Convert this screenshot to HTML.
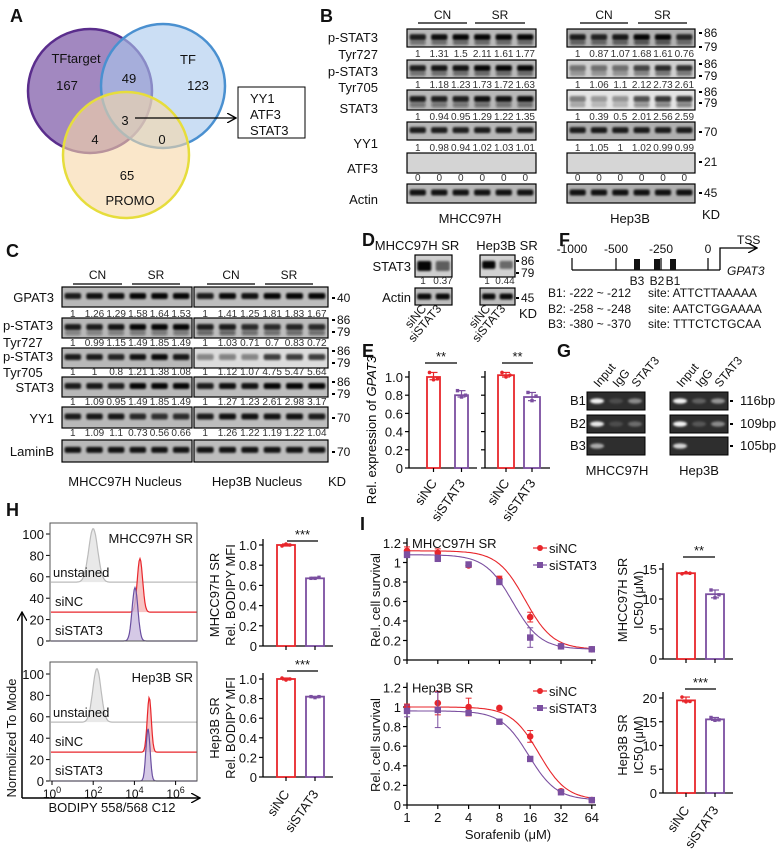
<!DOCTYPE html>
<html><head><meta charset="utf-8"><style>
html,body{margin:0;padding:0;background:#fff}
svg{display:block;font-family:"Liberation Sans",Arial,sans-serif}
</style></head><body>
<svg id="fig" width="779" height="849" viewBox="0 0 779 849">
<defs>
<filter id="blur1" x="-20%" y="-50%" width="140%" height="200%"><feGaussianBlur stdDeviation="1.1"/></filter>
<filter id="blur2" x="-30%" y="-80%" width="160%" height="260%"><feGaussianBlur stdDeviation="1.6"/></filter>
<marker id="ah" markerWidth="10" markerHeight="10" refX="9" refY="5" orient="auto" markerUnits="userSpaceOnUse"><path d="M0,0 L9,5 L0,10" fill="none" stroke="#000" stroke-width="1.3"/></marker>
</defs>
</svg>
<script>
// ---------- data ----------
const vennLabels = ['TFtarget','TF','PROMO'];
const vennCounts = ['167','49','123','3','4','0','65'];
const laneNums = ['CN','SR'];
const bLeftNums = [['1','1.31','1.5','2.11','1.61','1.77'],['1','1.18','1.23','1.73','1.72','1.63'],['1','0.94','0.95','1.29','1.22','1.35'],['1','0.98','0.94','1.02','1.03','1.01'],['0','0','0','0','0','0']];
const bRightNums = [['1','0.87','1.07','1.68','1.61','0.76'],['1','1.06','1.1','2.12','2.73','2.61'],['1','0.39','0.5','2.01','2.56','2.59'],['1','1.05','1','1.02','0.99','0.99'],['0','0','0','0','0','0']];
const cLeftNums = [['1','1.26','1.29','1.58','1.64','1.53'],['1','0.99','1.15','1.49','1.85','1.49'],['1','1','0.8','1.21','1.38','1.08'],['1','1.09','0.95','1.49','1.85','1.49'],['1','1.09','1.1','0.73','0.56','0.66']];
const cRightNums = [['1','1.41','1.25','1.81','1.83','1.67'],['1','1.03','0.71','0.7','0.83','0.72'],['1','1.12','1.07','4.75','5.47','5.64'],['1','1.27','1.23','2.61','2.98','3.17'],['1','1.26','1.22','1.19','1.22','1.04']];
// E
const eCats = ['siNC','siSTAT3'];
const eLeftVals = [1.0, 0.80];
const eLeftDots = [[1.05,0.97,0.98],[0.85,0.78,0.80]];
const eRightVals = [1.02, 0.78];
const eRightDots = [[1.05,1.00,1.02],[0.83,0.74,0.79]];
const eTicks = [0,0.2,0.4,0.6,0.8,1.0];
const eTickLabels = ['0','0.2','0.4','0.6','0.8','1.0'];
// H
const hTicks = [0,20,40,60,80,100];
const hXTickLabels = ['0','2','4','6'];
const hMhccPeaks = {unstained:[2.0,105,55,0.22], siNC:[4.27,77,27,0.13], siSTAT3:[4.03,50,0,0.14]};
const hHepPeaks = {unstained:[2.18,105,55,0.2], siNC:[4.72,78,27,0.1], siSTAT3:[4.66,49,0,0.1]};
const hMfiMhcc = [1.0, 0.67];
const hMfiMhccDots = [[0.99,1.01,1.0],[0.67,0.67,0.68]];
const hMfiHep = [1.0, 0.82];
const hMfiHepDots = [[1.01,0.99,1.0],[0.82,0.81,0.82]];
const hMfiTicks = [0,0.2,0.4,0.6,0.8,1.0];
// I
const iDoses = [1,2,4,8,16,32,64];
const iDoseLabels = ['1','2','4','8','16','32','64'];
const iMhccNC = [1.12,1.10,0.97,0.83,0.44,0.14,0.11];
const iMhccSi = [1.08,1.04,0.98,0.80,0.23,0.14,0.11];
const iMhccNCErr = [0.04,0.04,0.02,0.03,0.05,0.01,0.02];
const iMhccSiErr = [0.03,0.03,0.02,0.02,0.10,0.01,0.02];
const iHepNC = [1.00,1.04,1.00,0.99,0.70,0.14,0.05];
const iHepSi = [0.96,0.97,0.94,0.85,0.47,0.13,0.05];
const iHepNCErr = [0.03,0.12,0.09,0.01,0.06,0.02,0.01];
const iHepSiErr = [0.06,0.18,0.02,0.01,0.02,0.01,0.01];
const iYTicks = [0,0.2,0.4,0.6,0.8,1,1.2];
const iYTickLabels = ['0','0.2','0.4','0.6','0.8','1','1.2'];
const ic50Mhcc = [14.3, 10.8];
const ic50MhccDots = [[14.2,14.4,14.3],[11.5,10.2,10.7]];
const ic50Hep = [19.5, 15.5];
const ic50HepDots = [[20.2,19.2,19.3],[15.9,15.3,15.4]];
const ic50MhccTicks = [0,5,10,15];
const ic50HepTicks = [0,5,10,15,20];

// ---------- helpers ----------
const NS='http://www.w3.org/2000/svg';
const svg=document.getElementById('fig');
const RED='#e8262b', PUR='#7b4fa0';
function mk(tag, attrs, parent, name){
  const e=document.createElementNS(NS,tag);
  for(const k in attrs) e.setAttribute(k,attrs[k]);
  
  
  (parent||svg).appendChild(e); return e;
}
function T(x,y,s,o,name,parent){
  o=o||{};
  const a={x:x,y:y,'font-size':o.size||12,fill:o.fill||'#111','text-anchor':o.anchor||'start'};
  if(o.weight) a['font-weight']=o.weight;
  if(o.italic) a['font-style']='italic';
  if(o.rot!==undefined) a.transform='rotate('+o.rot+' '+x+' '+y+')';
  const e=mk('text',a,parent,name); e.textContent=s; return e;
}
function L(x1,y1,x2,y2,o,name,parent){
  o=o||{};
  const a={x1:x1,y1:y1,x2:x2,y2:y2,stroke:o.stroke||'#000','stroke-width':o.w||1};
  if(o.marker) a['marker-end']='url(#ah)';
  return mk('line',a,parent,name);
}

// ---------- panel letters ----------
[['A',10,22],['B',320,22],['C',6,257],['D',362,246],['E',362,357],['F',559,246],['G',557,357],['H',6,516],['I',360,530]].forEach(p=>T(p[1],p[2],p[0],{size:18,weight:'bold'},'panel-label-'+p[0].toLowerCase()));

// ---------- A: Venn ----------
const gA=mk('g',{},svg,'venn-diagram');
mk('circle',{cx:90,cy:91,r:62,fill:'#7e5aa8','fill-opacity':0.72,stroke:'#5a2d8c','stroke-width':2.5},gA,'venn-circle-tftarget');
mk('circle',{cx:163,cy:86,r:62,fill:'#a9c8ec','fill-opacity':0.6,stroke:'#4a90d0','stroke-width':2.5},gA,'venn-circle-tf');
mk('circle',{cx:126,cy:155,r:63,fill:'#f6d7a6','fill-opacity':0.6,stroke:'#e6dd3c','stroke-width':2.5},gA,'venn-circle-promo');
T(76,63,vennLabels[0],{size:13,anchor:'middle'},'venn-label-tftarget',gA);
T(188,64,vennLabels[1],{size:13,anchor:'middle'},'venn-label-tf',gA);
T(130,205,vennLabels[2],{size:13,anchor:'middle'},'venn-label-promo',gA);
[[67,90],[129,83],[198,90],[125,125],[95,144],[162,144],[127,180]].forEach((p,i)=>T(p[0],p[1],vennCounts[i],{size:13,anchor:'middle'},'venn-count',gA));
L(135,118,236,118,{w:1.3,marker:true},'venn-arrow',gA);
mk('rect',{x:238,y:87,width:67,height:51,fill:'#fff',stroke:'#000','stroke-width':1},gA,'tf-list-box');
T(250,103,'YY1',{size:13},'tf-yy1',gA);T(250,119,'ATF3',{size:13},'tf-atf3',gA);T(250,135,'STAT3',{size:13},'tf-stat3',gA);

// ---------- blot helper ----------
function blot(x,y,w,h,ints,o,name){
  o=o||{};
  const g=mk('g',{},svg,name);
  mk('rect',{x:x,y:y,width:w,height:h,fill:o.bg||'#bcbcbc',stroke:'#000','stroke-width':1.2},g,name+'-frame');
  const n=ints.length, lw=w/n;
  ints.forEach((v,i)=>{
    if(v<=0) return;
    const cx=x+lw*(i+0.5);
    const bh=o.bh||6;
    mk('rect',{x:cx-lw*0.38,y:y+h*(o.pos||0.45)-bh/2,width:lw*0.76,height:bh,rx:2,fill:'#000','fill-opacity':Math.min(0.97,v),filter:'url(#blur1)'},g,'band');
    if(o.second){mk('rect',{x:cx-lw*0.36,y:y+h*0.72-2,width:lw*0.72,height:5,rx:2,fill:'#111','fill-opacity':Math.min(0.9,v*o.second),filter:'url(#blur1)'},g,'band-lower');}
  });
  return g;
}
function nums(x,w,y,arr,name){arr.forEach((s,i)=>T(x+w/6*(i+0.5),y,s,{size:10,anchor:'middle',fill:'#333'},name));}
function header(x1,x2,x3,x4,yT,yL,pre){
  T((x1+x2)/2,yT,laneNums[0],{size:12,anchor:'middle'},pre+'-cn-label');L(x1,yL,x2,yL,{w:1.2},pre+'-cn-line');
  T((x3+x4)/2,yT,laneNums[1],{size:12,anchor:'middle'},pre+'-sr-label');L(x3,yL,x4,yL,{w:1.2},pre+'-sr-line');
}
function kd(x,y,s,name){L(x-4,y-4,x-1,y-4,{w:2},'kd-tick');T(x+1,y,s,{size:12},name);}
const sc=a=>a.map(v=>Math.min(0.97,0.6+0.25*parseFloat(v)));
const scW=a=>a.map(v=>Math.min(0.97,0.25+0.2*parseFloat(v)));

// ---------- B ----------
header(418,467,475,525,19,23,'b-left');header(580,628,638,687,19,23,'b-right');
const bRows=[[29,47],[60,78],[90,110],[122,140],[153,173],[184,203]];
const bNumY=[57,88,120,151,181];
const bNames=['pstat3-727','pstat3-705','stat3','yy1','atf3','actin'];
bRows.forEach((r,i)=>{
  let il = i<5? sc(bLeftNums[i]):[0.9,0.9,0.9,0.9,0.9,0.9];
  let ir = i<5? (i===1||i===2?scW(bRightNums[i]):sc(bRightNums[i])):[0.9,0.9,0.9,0.9,0.9,0.9];
  if(i===4){il=il.map(()=>0);ir=ir.map(()=>0);}
  blot(407,r[0],129,r[1]-r[0],il,{bg:i===4?'#d4d4d4':'#b8b8b8',second:i<3?0.5:0},'blot-b-mhcc-'+bNames[i]);
  blot(567,r[0],128,r[1]-r[0],ir,{bg:i===4?'#d6d6d6':(i===2?'#e4e4e4':(i===1?'#cfcfcf':'#b0b0b0')),second:i<3?0.6:0},'blot-b-hep3b-'+bNames[i]);
  if(i<5){nums(407,129,bNumY[i],bLeftNums[i],'b-mhcc-quant');nums(567,128,bNumY[i],bRightNums[i],'b-hep3b-quant');}
});
[['p-STAT3',42],['Tyr727',59],['p-STAT3',76],['Tyr705',92],['STAT3',113],['YY1',148],['ATF3',173],['Actin',204]].forEach(p=>T(378,p[1],p[0],{size:13,anchor:'end'},'b-row-label'));
[['86',37],['79',51],['86',68],['79',80],['86',96],['79',107],['70',136],['21',166],['45',197]].forEach(p=>kd(703,p[1],p[0],'b-kd-marker'));
T(470,223,'MHCC97H',{size:13,anchor:'middle'},'b-cell-mhcc97h');T(630,223,'Hep3B',{size:13,anchor:'middle'},'b-cell-hep3b');T(702,219,'KD',{size:13},'b-kd-unit');

// ---------- C ----------
header(73,122,132,180,279,284,'c-left');header(207,255,265,313,279,284,'c-right');
const cRows=[[287,307],[318,338],[348,368],[377,397],[407,428],[440,462]];
const cNumY=[317,346,375,405,436];
const cNames=['gpat3','pstat3-727','pstat3-705','stat3','yy1','laminb'];
cRows.forEach((r,i)=>{
  const il=i<5?sc(cLeftNums[i]):[0.9,0.9,0.9,0.9,0.9,0.9];
  const ir=i<5?(i===2?scW(cRightNums[i].map(v=>Math.min(3.5,parseFloat(v))/1.5+'')):sc(cRightNums[i].map(v=>Math.min(2,parseFloat(v))+''))):[0.9,0.9,0.9,0.9,0.9,0.9];
  blot(62,r[0],130,r[1]-r[0],il,{bg:'#b8b8b8',second:(i===1)?0.4:0},'blot-c-mhcc-'+cNames[i]);
  blot(194,r[0],134,r[1]-r[0],ir,{bg:i===2?'#dcdcdc':'#bdbdbd',second:(i===1)?0.6:0},'blot-c-hep3b-'+cNames[i]);
  if(i<5){nums(62,130,cNumY[i],cLeftNums[i],'c-mhcc-quant');nums(194,134,cNumY[i],cRightNums[i],'c-hep3b-quant');}
});
[['GPAT3',302,'end',54],['p-STAT3',330,'start',3],['Tyr727',347,'start',3],['p-STAT3',361,'start',3],['Tyr705',377,'start',3],['STAT3',392,'end',54],['YY1',423,'end',54],['LaminB',456,'end',54]].forEach(p=>T(p[3],p[1],p[0],{size:13,anchor:p[2]},'c-row-label'));
[['40',302],['86',324],['79',336],['86',355],['79',367],['86',386],['79',398],['70',422],['70',456]].forEach(p=>kd(336,p[1],p[0],'c-kd-marker'));
T(125,486,'MHCC97H Nucleus',{size:13,anchor:'middle'},'c-cell-mhcc97h');T(257,486,'Hep3B Nucleus',{size:13,anchor:'middle'},'c-cell-hep3b');T(328,486,'KD',{size:13},'c-kd-unit');

// ---------- D ----------
T(417,250,'MHCC97H SR',{size:13,anchor:'middle'},'d-title-mhcc');T(507,250,'Hep3B SR',{size:13,anchor:'middle'},'d-title-hep3b');
blot(415,255,37,22,[0.97,0.55],{bg:'#cfcfcf',bh:10,pos:0.5},'blot-d-mhcc-stat3');
blot(480,255,35,22,[0.97,0.5],{bg:'#d2d2d2',bh:8,pos:0.45},'blot-d-hep3b-stat3');
blot(415,288,37,17,[0.95,0.95],{bg:'#bdbdbd',pos:0.5},'blot-d-mhcc-actin');
blot(480,288,35,17,[0.95,0.95],{bg:'#bdbdbd',pos:0.5},'blot-d-hep3b-actin');
T(423,284,'1',{size:10,anchor:'middle',fill:'#333'},'d-quant');T(443,284,'0.37',{size:10,anchor:'middle',fill:'#333'},'d-quant');
T(487,284,'1',{size:10,anchor:'middle',fill:'#333'},'d-quant');T(505,284,'0.44',{size:10,anchor:'middle',fill:'#333'},'d-quant');
T(411,271,'STAT3',{size:13,anchor:'end'},'d-row-stat3');T(411,302,'Actin',{size:13,anchor:'end'},'d-row-actin');
kd(520,265,'86','d-kd');kd(520,277,'79','d-kd');kd(520,302,'45','d-kd');T(519,318,'KD',{size:13},'d-kd-unit');
[[427,'siNC'],[442,'siSTAT3'],[491,'siNC'],[506,'siSTAT3']].forEach(p=>T(p[0],309,p[1],{size:12,anchor:'end',rot:-50},'d-lane-label'));

// ---------- bar chart helper ----------
function barChart(o,name){
  const g=mk('g',{},svg,name);
  const y=v=>o.y0-v*o.ppu;
  L(o.ax,o.y0,o.ax,y(o.ticks[o.ticks.length-1])-6,{w:1.3},name+'-y-axis',g);
  L(o.ax,o.y0,o.ax2,o.y0,{w:1.3},name+'-x-axis',g);
  o.ticks.forEach((t,i)=>{L(o.ax-4,y(t),o.ax,y(t),{w:1.2},'y-tick',g); if(o.labels) T(o.ax-6,y(t)+5,o.labels[i],{size:13,anchor:'end'},'y-tick-label',g);});
  o.vals.forEach((v,i)=>{
    const c=i===0?RED:PUR, bx=o.bx[i];
    mk('rect',{x:bx,y:y(v),width:o.bw,height:o.y0-y(v),fill:'#fff',stroke:c,'stroke-width':1.8},g,'bar-'+eCats[i]);
    L(bx+o.bw/2,o.y0,bx+o.bw/2,o.y0+4,{w:1.2},'x-tick',g);
    const d=o.dots[i], mx=Math.max(...d), mn=Math.min(...d);
    L(bx+o.bw/2,y(mx),bx+o.bw/2,y(mn),{stroke:c,w:1.2},'error-bar',g);
    L(bx+o.bw/2-4,y(mx),bx+o.bw/2+4,y(mx),{stroke:c,w:1.2},'error-cap',g);
    L(bx+o.bw/2-4,y(mn),bx+o.bw/2+4,y(mn),{stroke:c,w:1.2},'error-cap',g);
    d.forEach((dv,j)=>mk(i===0?'circle':'rect',i===0?{cx:bx+o.bw/2+(j-1)*4,cy:y(dv),r:1.8,fill:c}:{x:bx+o.bw/2+(j-1)*4-1.7,y:y(dv)-1.7,width:3.4,height:3.4,fill:c},g,'data-point'));
    if(o.catY) T(bx+o.bw/2+4,o.catY,eCats[i],{size:13,anchor:'end',rot:-55},'x-category-label',g);
  });
  L(o.sig[0],o.sig[2],o.sig[1],o.sig[2],{w:1.2},'significance-line',g);
  T((o.sig[0]+o.sig[1])/2,o.sig[2]-2,o.sig[3],{size:13,anchor:'middle'},'significance-stars',g);
  return g;
}

// ---------- E ----------
barChart({ax:409,ax2:477,y0:468,ppu:91,ticks:eTicks,labels:eTickLabels,vals:eLeftVals,dots:eLeftDots,bx:[427,455],bw:13,sig:[425,457,363,'**'],catY:483},'e-chart-mhcc');
barChart({ax:485,ax2:550,y0:468,ppu:91,ticks:eTicks,labels:null,vals:eRightVals,dots:eRightDots,bx:[498,524],bw:16,sig:[502,533,363,'**'],catY:483},'e-chart-hep3b');
const ey=mk('text',{x:376,y:430,'font-size':13,'text-anchor':'middle',transform:'rotate(-90 376 430)'},svg,'e-y-axis-title');
ey.innerHTML='Rel. expression of <tspan font-style="italic">GPAT3</tspan>';

// ---------- F ----------
L(572,270,720,270,{w:1.3},'f-promoter-line');
[[572,'-1000'],[616,'-500'],[661,'-250'],[708,'0']].forEach(p=>{L(p[0],258,p[0],270,{w:1.2},'f-tick');T(p[0],253,p[1],{size:12,anchor:'middle'},'f-position-label');});
[[637,'B3'],[657,'B2'],[673,'B1']].forEach(p=>{mk('rect',{x:p[0]-3,y:259,width:6,height:11,fill:'#111'},svg,'f-site-box');T(p[0],285,p[1],{size:12,anchor:'middle'},'f-site-label');});
mk('polyline',{points:'720,270 720,248 757,248',fill:'none',stroke:'#000','stroke-width':1.3,'marker-end':'url(#ah)'},svg,'f-tss-arrow');
T(737,244,'TSS',{size:12},'f-tss-label');T(727,275,'GPAT3',{size:12,italic:true},'f-gene-label');
[['B1: -222 ~ -212','site: ATTCTTAAAAA',297],['B2: -258 ~ -248','site: AATCTGGAAAA',313],['B3: -380 ~ -370','site: TTTCTCTGCAA',328]].forEach(p=>{T(548,p[2],p[0],{size:12},'f-site-range');T(648,p[2],p[1],{size:12},'f-site-seq');});

// ---------- G ----------
function gel(x,ints,name){
  const rows=[[392,410],[415,433],[437,455]];
  rows.forEach((r,ri)=>{
    mk('rect',{x:x,y:r[0],width:58,height:r[1]-r[0],fill:'#2e2e2e',stroke:'#000','stroke-width':1},svg,name+'-lane-row');
    ints[ri].forEach((v,li)=>{ if(v>0) mk('ellipse',{cx:x+10+li*19,cy:(r[0]+r[1])/2,rx:7,ry:2.6,fill:'#fff','fill-opacity':v,filter:'url(#blur1)'},svg,'gel-band');});
  });
  ['Input','IgG','STAT3'].forEach((s,i)=>T(x+12+i*19,388,s,{size:12,rot:-50},'g-lane-label'));
}
gel(587,[[0.95,0.15,0.45],[0.9,0.15,0.3],[0.6,0,0]],'g-gel-mhcc');
gel(670,[[0.95,0.25,0.5],[0.95,0.2,0.45],[0.8,0,0]],'g-gel-hep3b');
[['B1',405],['B2',428],['B3',450]].forEach(p=>T(570,p[1],p[0],{size:13},'g-row-label'));
[['116bp',405],['109bp',428],['105bp',450]].forEach(p=>{L(730,p[1]-4,733,p[1]-4,{w:2},'g-size-tick');T(740,p[1],p[0],{size:13},'g-size-label');});
T(617,475,'MHCC97H',{size:13,anchor:'middle'},'g-cell-mhcc97h');T(699,475,'Hep3B',{size:13,anchor:'middle'},'g-cell-hep3b');

// ---------- H histograms ----------
const hx=l=>52+l*20.6;
function hist(top,y0,peaks,title,name){
  const g=mk('g',{},svg,name);
  const hy=v=>y0-v*1.07;
  mk('rect',{x:50,y:top,width:147,height:y0-top,fill:'none',stroke:'#555','stroke-width':1},g,name+'-frame');
  hTicks.forEach(t=>{L(46,hy(t),50,hy(t),{w:1},'y-tick',g);T(44,hy(t)+5,String(t),{size:13,anchor:'end'},'y-tick-label',g);});
  const cols={unstained:['#bbb','#e4e4e4'],siNC:[RED,'#f5b5b5'],siSTAT3:['#6a4ea0','#cbbbe0']};
  ['unstained','siNC','siSTAT3'].forEach(k=>{
    const p=peaks[k]; let d='';
    for(let l=-0.05;l<=7.1;l+=0.04){
      const v=p[2]+(p[1]-p[2])*Math.exp(-Math.pow(l-p[0],2)/(2*p[3]*p[3]));
      const X=hx(l), Y=hy(v);
      d+=(d?'L':'M')+X.toFixed(1)+','+Y.toFixed(1);
    }
    mk('path',{d:d+'L'+hx(7.1)+','+hy(p[2])+'L'+hx(-0.05)+','+hy(p[2])+'Z',fill:cols[k][1],'fill-opacity':0.8,stroke:'none'},g,'histogram-fill-'+k);
    mk('path',{d:d,fill:'none',stroke:cols[k][0],'stroke-width':1.2},g,'histogram-'+k);
  });
  mk('rect',{x:197,y:top-1,width:6,height:y0-top+2,fill:'#fff'},g,'mask');
  mk('rect',{x:50,y:top,width:147,height:y0-top,fill:'none',stroke:'#555','stroke-width':1},g,name+'-frame-top');
  T(193,top+20,title,{size:13,anchor:'end'},'histogram-title',g);
  T(53,hy(peaks.unstained[2])-5,'unstained',{size:13},'label-unstained',g);
  T(55,hy(peaks.siNC[2])-6,'siNC',{size:13},'label-sinc',g);
  T(55,y0-6,'siSTAT3',{size:13},'label-sistat3',g);
}
hist(523,641,hMhccPeaks,'MHCC97H SR','h-histogram-mhcc');
hist(662,781,hHepPeaks,'Hep3B SR','h-histogram-hep3b');
hXTickLabels.forEach((s,i)=>{const X=hx(i*2);L(X,781,X,785,{w:1},'x-tick');const t=T(X,798,'10',{size:12,anchor:'middle'},'x-tick-label');const ts=document.createElementNS(NS,'tspan');ts.setAttribute('dy','-5');ts.setAttribute('font-size','9');ts.textContent=s;t.appendChild(ts);});
L(22,798,22,612,{w:1.5,marker:true},'h-y-arrow');L(22,798,200,798,{w:1.5,marker:true},'h-x-arrow');
T(16,738,'Normolized To Mode',{size:13,anchor:'middle',rot:-90},'h-y-axis-title');
T(112,812,'BODIPY 558/568 C12',{size:13,anchor:'middle'},'h-x-axis-title');
barChart({ax:263,ax2:333,y0:646,ppu:101,ticks:hMfiTicks,labels:['0','0.2','0.4','0.6','0.8','1.0'],vals:hMfiMhcc,dots:hMfiMhccDots,bx:[277,306],bw:18,sig:[287,318,541,'***']},'h-mfi-mhcc');
barChart({ax:263,ax2:333,y0:777,ppu:98,ticks:hMfiTicks,labels:['0','0.2','0.4','0.6','0.8','1.0'],vals:hMfiHep,dots:hMfiHepDots,bx:[277,306],bw:18,sig:[287,318,671,'***'],catY:794},'h-mfi-hep3b');
T(219,595,'MHCC97H SR',{size:13,anchor:'middle',rot:-90},'h-mfi-y-title');T(235,595,'Rel. BODIPY MFI',{size:13,anchor:'middle',rot:-90},'h-mfi-y-title');
T(219,728,'Hep3B SR',{size:13,anchor:'middle',rot:-90},'h-mfi-y-title');T(235,728,'Rel. BODIPY MFI',{size:13,anchor:'middle',rot:-90},'h-mfi-y-title');

// ---------- I dose-response ----------
const ix=d=>407+Math.log2(d)*30.8;
function doseChart(y0,ppu,nc,si,ncE,siE,ic,title,legY,name){
  const g=mk('g',{},svg,name);
  const y=v=>y0-v*ppu;
  L(407,y0,407,y(1.25),{w:1.3},'y-axis',g);L(407,y0,596,y0,{w:1.3},'x-axis',g);
  iYTicks.forEach((t,i)=>{L(403,y(t),407,y(t),{w:1.2},'y-tick',g);T(401,y(t)+5,iYTickLabels[i],{size:13,anchor:'end'},'y-tick-label',g);});
  iDoses.forEach(d=>L(ix(d),y0,ix(d),y0+4,{w:1.2},'x-tick',g));
  [[nc,ncE,RED,ic[0],'sinc'],[si,siE,PUR,ic[1],'sistat3']].forEach(s=>{
    const top=s[0][0], bot=s[0][6];
    let d='';
    for(let l=0;l<=6.05;l+=0.05){const x=Math.pow(2,l);const v=bot+(top-bot)/(1+Math.pow(x/s[3],3.2));d+=(d?'L':'M')+ix(x).toFixed(1)+','+y(v).toFixed(1);}
    mk('path',{d:d,fill:'none',stroke:s[2],'stroke-width':1.1},g,'fit-curve-'+s[4]);
    s[0].forEach((v,i)=>{
      const X=ix(iDoses[i]);
      L(X,y(v+s[1][i]),X,y(v-s[1][i]),{stroke:s[2],w:1},'error-bar',g);
      L(X-3,y(v+s[1][i]),X+3,y(v+s[1][i]),{stroke:s[2],w:1},'error-cap',g);
      L(X-3,y(v-s[1][i]),X+3,y(v-s[1][i]),{stroke:s[2],w:1},'error-cap',g);
      if(s[4]==='sinc') mk('circle',{cx:X,cy:y(v),r:3.3,fill:s[2]},g,'point-sinc');
      else mk('rect',{x:X-3.2,y:y(v)-3.2,width:6.4,height:6.4,fill:s[2]},g,'point-sistat3');
    });
  });
  T(412,y(1.2)+5,title,{size:13},'dose-chart-title',g);
  L(533,legY,547,legY,{stroke:RED,w:1.2},'legend-line-sinc',g);mk('circle',{cx:540,cy:legY,r:3,fill:RED},g,'legend-marker-sinc');T(549,legY+5,'siNC',{size:13},'legend-label-sinc',g);
  L(533,legY+17,547,legY+17,{stroke:PUR,w:1.2},'legend-line-sistat3',g);mk('rect',{x:537,y:legY+14,width:6,height:6,fill:PUR},g,'legend-marker-sistat3');T(549,legY+22,'siSTAT3',{size:13},'legend-label-sistat3',g);
}
doseChart(660,97.5,iMhccNC,iMhccSi,iMhccNCErr,iMhccSiErr,ic50Mhcc,'MHCC97H SR',548,'i-dose-mhcc');
doseChart(805,98,iHepNC,iHepSi,iHepNCErr,iHepSiErr,ic50Hep,'Hep3B SR',691,'i-dose-hep3b');
iDoseLabels.forEach((s,i)=>T(ix(iDoses[i]),822,s,{size:13,anchor:'middle'},'i-x-tick-label'));
T(508,839,'Sorafenib (μM)',{size:13,anchor:'middle'},'i-x-axis-title');
T(380,600,'Rel. cell survival',{size:13,anchor:'middle',rot:-90},'i-y-axis-title');
T(380,745,'Rel. cell survival',{size:13,anchor:'middle',rot:-90},'i-y-axis-title');
barChart({ax:663,ax2:733,y0:659,ppu:6,ticks:ic50MhccTicks,labels:['0','5','10','15'],vals:ic50Mhcc,dots:ic50MhccDots,bx:[677,706],bw:18,sig:[683,715,557,'**']},'i-ic50-mhcc');
barChart({ax:663,ax2:733,y0:793,ppu:4.75,ticks:ic50HepTicks,labels:['0','5','10','15','20'],vals:ic50Hep,dots:ic50HepDots,bx:[677,706],bw:18,sig:[685,716,689,'***'],catY:810},'i-ic50-hep3b');
T(627,600,'MHCC97H SR',{size:13,anchor:'middle',rot:-90},'i-ic50-y-title');T(643,600,'IC50 (μM)',{size:13,anchor:'middle',rot:-90},'i-ic50-y-title');
T(627,745,'Hep3B SR',{size:13,anchor:'middle',rot:-90},'i-ic50-y-title');T(643,745,'IC50 (μM)',{size:13,anchor:'middle',rot:-90},'i-ic50-y-title');
</script>
</body></html>
